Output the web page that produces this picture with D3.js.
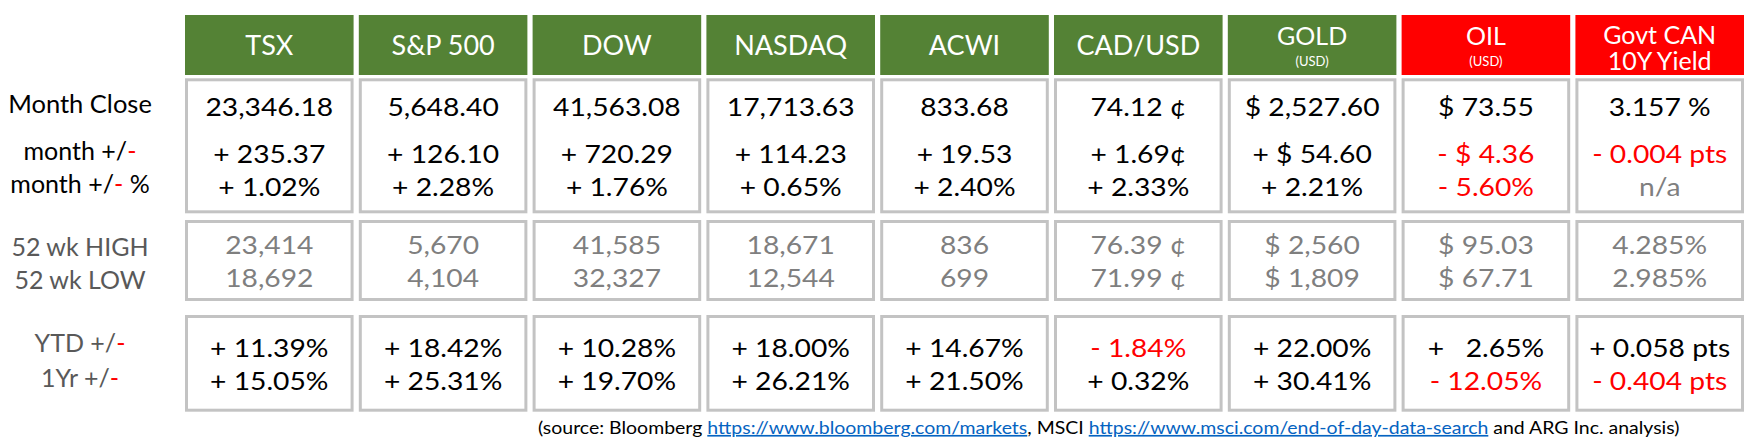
<!DOCTYPE html>
<html>
<head>
<meta charset="utf-8">
<script src="https://cdn.jsdelivr.net/npm/d3@7"></script>
<style>
  body { margin: 0; background: #fff; }
  svg { display: block; font-family: Lato, "Open Sans", sans-serif; }
</style>
</head>
<body>
<svg id="chart" width="1755" height="445"></svg>
<script>
// column headers
var names    = ["TSX", "S&P 500", "DOW", "NASDAQ", "ACWI", "CAD/USD", "GOLD", "OIL", "Govt CAN"];
var subNames = ["", "", "", "", "", "", "(USD)", "(USD)", "10Y Yield"];
// unit of each column: "" index points, "c" cents, "$" US dollars, "y" yield
var units    = ["", "", "", "", "", "c", "$", "$", "y"];

// values
var monthClose  = [23346.18, 5648.40, 41563.08, 17713.63, 833.68, 74.12, 2527.60, 73.55, 3.157];
var monthChange = [235.37, 126.10, 720.29, 114.23, 19.53, 1.69, 54.60, -4.36, -0.004];
var monthPct    = [1.02, 2.28, 1.76, 0.65, 2.40, 2.33, 2.21, -5.60, null];
var high52      = [23414, 5670, 41585, 18671, 836, 76.39, 2560, 95.03, 4.285];
var low52       = [18692, 4104, 32327, 12544, 699, 71.99, 1809, 67.71, 2.985];
var ytd         = [11.39, 18.42, 10.28, 18.00, 14.67, -1.84, 22.00, 2.65, 0.058];
var oneYear     = [15.05, 25.31, 19.70, 26.21, 21.50, 0.32, 30.41, -12.05, -0.404];

var source = [
  {t: "(source: Bloomberg "},
  {t: "https://www.bloomberg.com/markets", link: true},
  {t: ", MSCI "},
  {t: "https://www.msci.com/end-of-day-data-search", link: true},
  {t: " and ARG Inc. analysis)"}
];

var GREEN = "#548235", RED = "#ff0000", GREY = "#7f7f7f", LABEL_GREY = "#595959";
// the picture is stretched sideways a little, numbers more than words
var SX_VAL = 1.13, SX_LAB = 1.0, SX_HEAD = 1.0;

var svg = d3.select("#chart");

var x = d3.scaleBand().domain(names).range([185, 1744]).paddingInner(0.03);

var f2 = d3.format(".2f"), f2c = d3.format(",.2f"), f3 = d3.format(".3f"), fc = d3.format(",");
function sign(v) { return v < 0 ? "- " : "+ "; }

function fmtClose(v, u) {
  if (u === "c") return f2(v) + " ¢";
  if (u === "$") return "$ " + f2c(v);
  if (u === "y") return f3(v) + " %";
  return f2c(v);
}
function fmtChange(v, u) {
  var a = Math.abs(v);
  if (u === "c") return sign(v) + f2(a) + "¢";
  if (u === "$") return sign(v) + "$ " + f2(a);
  if (u === "y") return sign(v) + f3(a) + " pts";
  return sign(v) + f2(a);
}
function fmtPct(v) { return v == null ? "n/a" : sign(v) + f2(Math.abs(v)) + "%"; }
function fmtRange(v, u) {
  var s = Number.isInteger(v) ? fc(v) : f2(v);
  if (u === "c") return s + " ¢";
  if (u === "$") return "$ " + s;
  if (u === "y") return f3(v) + "%";
  return s;
}
function fmtYear(v, u, pad) {
  var a = Math.abs(v);
  if (u === "y") return sign(v) + f3(a) + " pts";
  return sign(v) + (pad && a < 10 ? "  " : "") + f2(a) + "%";
}

// block layout
var header = {y0: 15, y1: 75};
var blocks = [{y0: 78.3, y1: 213.3}, {y0: 220, y1: 301}, {y0: 315, y1: 411.7}];

function txt(g, cx, y, size, sx, parts) {
  var t = g.append("text")
    .attr("transform", "translate(" + cx + "," + y + ") scale(" + sx + ",1)")
    .attr("text-anchor", "middle")
    .attr("font-size", size)
    .style("white-space", "pre");
  parts.forEach(function(p) {
    t.append("tspan").attr("fill", p.c || "#000").text(p.t);
  });
  return t;
}

// headers
names.forEach(function(n, i) {
  var down = monthChange[i] < 0;
  svg.append("rect")
    .attr("x", x(n)).attr("y", header.y0)
    .attr("width", x.bandwidth()).attr("height", header.y1 - header.y0)
    .attr("fill", down ? RED : GREEN);
  var cx = x(n) + x.bandwidth() / 2;
  var sub = subNames[i];
  if (!sub) {
    txt(svg, cx, 55, 27, SX_HEAD, [{t: n, c: "#fff"}]);
  } else if (sub === "(USD)") {
    txt(svg, cx, 44.5, 25, SX_HEAD, [{t: n, c: "#fff"}]);
    txt(svg, cx, 66, 13, SX_HEAD, [{t: sub, c: "#fff"}]);
  } else {
    txt(svg, cx, 43.5, 25, SX_HEAD, [{t: n, c: "#fff"}]);
    txt(svg, cx, 70, 25, SX_HEAD, [{t: sub, c: "#fff"}]);
  }
});

// cell boxes
blocks.forEach(function(b) {
  svg.append("g").selectAll("rect").data(names).join("rect")
    .attr("x", function(d) { return x(d) + 1.5; })
    .attr("y", b.y0 + 1.5)
    .attr("width", x.bandwidth() - 3)
    .attr("height", b.y1 - b.y0 - 3)
    .attr("fill", "#fff")
    .attr("stroke", "#c3c3c3")
    .attr("stroke-width", 3);
});

// cell values
var cells = svg.append("g");
names.forEach(function(n, i) {
  var cx = x(n) + x.bandwidth() / 2, u = units[i];
  var pad = (Math.abs(ytd[i]) >= 10) !== (Math.abs(oneYear[i]) >= 10);
  function col(v) { return v < 0 ? RED : "#000"; }
  txt(cells, cx, 116, 25, SX_VAL, [{t: fmtClose(monthClose[i], u)}]);
  txt(cells, cx, 163.3, 25, SX_VAL, [{t: fmtChange(monthChange[i], u), c: col(monthChange[i])}]);
  txt(cells, cx, 196, 25, SX_VAL, [{t: fmtPct(monthPct[i]), c: monthPct[i] == null ? GREY : col(monthPct[i])}]);
  txt(cells, cx, 254, 25, SX_VAL, [{t: fmtRange(high52[i], u), c: GREY}]);
  txt(cells, cx, 287, 25, SX_VAL, [{t: fmtRange(low52[i], u), c: GREY}]);
  txt(cells, cx, 356.7, 25, SX_VAL, [{t: fmtYear(ytd[i], u, pad), c: col(ytd[i])}]);
  txt(cells, cx, 390, 25, SX_VAL, [{t: fmtYear(oneYear[i], u, pad), c: col(oneYear[i])}]);
});

// row labels
var lx = 80;
txt(svg, lx, 113.3, 25.5, SX_LAB, [{t: "Month Close"}]);
txt(svg, lx, 160, 25, SX_LAB, [{t: "month +/"}, {t: "-", c: RED}]);
txt(svg, lx, 193.3, 25, SX_LAB, [{t: "month +/"}, {t: "-", c: RED}, {t: " %"}]);
txt(svg, lx, 256, 25, SX_LAB, [{t: "52 wk HIGH", c: LABEL_GREY}]);
txt(svg, lx, 289, 25, SX_LAB, [{t: "52 wk LOW", c: LABEL_GREY}]);
txt(svg, lx, 352.3, 25, SX_LAB, [{t: "YTD +/", c: LABEL_GREY}, {t: "-", c: RED}]);
txt(svg, lx, 386.7, 25, SX_LAB, [{t: "1Yr +/", c: LABEL_GREY}, {t: "-", c: RED}]);

// source line, fitted between its ends in the picture
var st = svg.append("text").attr("font-size", 16.7).attr("text-anchor", "start").style("white-space", "pre");
source.forEach(function(p) {
  st.append("tspan")
    .attr("fill", p.link ? "#0563c1" : "#000")
    .attr("text-decoration", p.link ? "underline" : null)
    .text(p.t);
});
var sw = st.node().getComputedTextLength();
st.attr("transform", "translate(538,434) scale(" + (1142 / sw) + ",1)");
</script>
</body>
</html>
